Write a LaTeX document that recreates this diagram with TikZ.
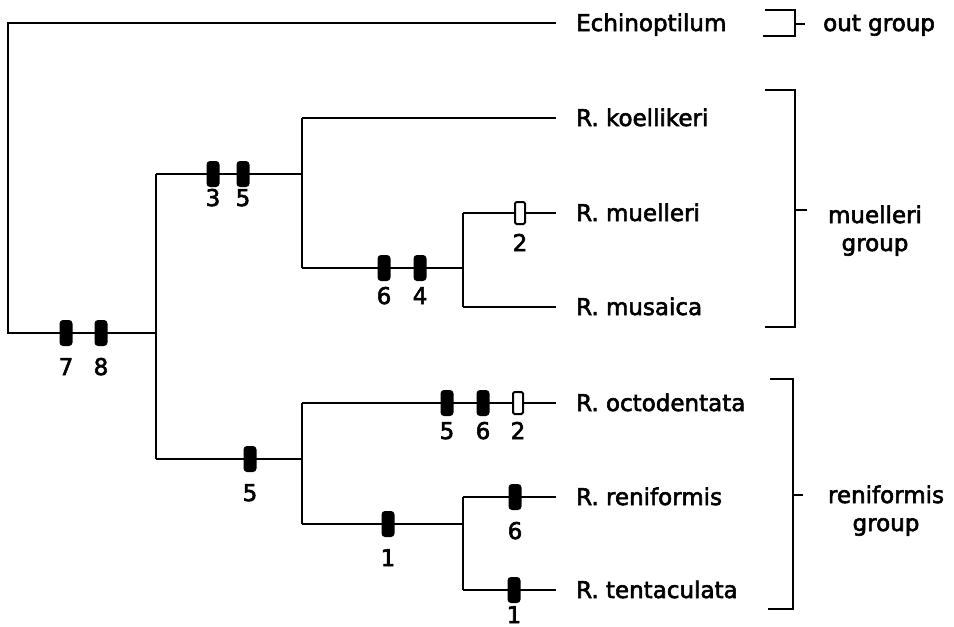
\documentclass[tikz,border=0pt]{standalone}
\usepackage{fontspec}
\setmainfont[FakeBold=2.5]{DejaVu Sans}
\begin{document}
\begin{tikzpicture}[x=1pt,y=-1pt,
  tree/.style={line width=2.8pt},
  brk/.style={line width=2.8pt},
  bar/.style={fill=black, rounded corners=3.5pt, minimum width=13pt, minimum height=26pt, inner sep=0pt},
  openbar/.style={draw=black, fill=white, line width=2pt, rounded corners=1.5pt, minimum width=10pt, minimum height=22pt, inner sep=0pt},
  lbl/.style={font=\fontsize{23}{27}\selectfont, inner sep=0pt},
  num/.style={lbl, anchor=base},
  taxon/.style={lbl, anchor=base west},
  grp/.style={lbl, anchor=base}]
\useasboundingbox (0,0) rectangle (954,627);

% junction coordinates
\coordinate (rtop) at (8,23);
\coordinate (r0) at (8,333);
\coordinate (n1) at (156,333);
\coordinate (n1a) at (156,174);
\coordinate (n1b) at (156,459);
\coordinate (n2) at (302,174);
\coordinate (n2a) at (302,118);
\coordinate (n2b) at (302,268);
\coordinate (n3) at (463,268);
\coordinate (n3a) at (463,213);
\coordinate (n3b) at (463,307);
\coordinate (n4) at (302,459);
\coordinate (n4a) at (302,403);
\coordinate (n4b) at (302,524);
\coordinate (n5) at (463,524);
\coordinate (n5a) at (463,497);
\coordinate (n5b) at (463,590);
% terminal ends
\coordinate (t0) at (556,23);
\coordinate (t1) at (556,118);
\coordinate (t2) at (556,213);
\coordinate (t3) at (556,307);
\coordinate (t4) at (556,403);
\coordinate (t5) at (556,497);
\coordinate (t6) at (556,590);

% taxa
\node[taxon] (echi) at (576,31) {Echinoptilum};
\node[taxon] (koel) at (576,126) {R. koellikeri};
\node[taxon] (muel) at (576,221) {R. muelleri};
\node[taxon] (musa) at (576,315) {R. musaica};
\node[taxon] (octo) at (576,411) {R. octodentata};
\node[taxon] (reni) at (576,505) {R. reniformis};
\node[taxon] (tent) at (576,598) {R. tentaculata};

% tree
\draw[tree] (t0) -- (rtop) -- (r0) -- (n1);
\draw[tree] (n1a) -- (n1b);
\draw[tree] (n1a) -- (n2);
\draw[tree] (n2a) -- (n2b);
\draw[tree] (n2a) -- (t1);
\draw[tree] (n2b) -- (n3);
\draw[tree] (n3a) -- (n3b);
\draw[tree] (n3a) -- (t2);
\draw[tree] (n3b) -- (t3);
\draw[tree] (n1b) -- (n4);
\draw[tree] (n4a) -- (n4b);
\draw[tree] (n4a) -- (t4);
\draw[tree] (n4b) -- (n5);
\draw[tree] (n5a) -- (n5b);
\draw[tree] (n5a) -- (t5);
\draw[tree] (n5b) -- (t6);

% character marks
\node[bar] (m7) at (66,333) {};
\node[bar] (m8) at (101,333) {};
\node[bar] (m3) at (213,174) {};
\node[bar] (m5a) at (243,174) {};
\node[bar] (m6a) at (384,268) {};
\node[bar] (m4) at (420,268) {};
\node[openbar] (o2a) at (520,213) {};
\node[bar] (m5b) at (250,459) {};
\node[bar] (m5c) at (447,403) {};
\node[bar] (m6b) at (483,403) {};
\node[openbar] (o2b) at (518,403) {};
\node[bar] (m1a) at (388,524) {};
\node[bar] (m6c) at (515,497) {};
\node[bar] (m1b) at (514,590) {};

% character numbers
\node[num] (l7) at (66,375) {7};
\node[num] (l8) at (101,375) {8};
\node[num] (l3) at (213,206) {3};
\node[num] (l5a) at (243,206) {5};
\node[num] (l6a) at (384,304) {6};
\node[num] (l4) at (420,304) {4};
\node[num] (l2a) at (520,251) {2};
\node[num] (l5b) at (250,501) {5};
\node[num] (l5c) at (447,439) {5};
\node[num] (l6b) at (483,439) {6};
\node[num] (l2b) at (518,439) {2};
\node[num] (l1a) at (388,566) {1};
\node[num] (l6c) at (515,539) {6};
\node[num] (l1b) at (514,623) {1};

% group brackets
\coordinate (ba1) at (763,36);
\coordinate (ba2) at (795,36);
\coordinate (ba3) at (795,10);
\coordinate (ba4) at (765,10);
\coordinate (bat) at (795,24);
\coordinate (bat2) at (805,24);
\draw[brk] (ba1) -- (ba2) -- (ba3) -- (ba4);
\draw[brk] (bat) -- (bat2);
\node[taxon] (outg) at (823,31) {out group};

\coordinate (bb1) at (765,90);
\coordinate (bb2) at (795,90);
\coordinate (bb3) at (795,327);
\coordinate (bb4) at (765,327);
\coordinate (bbt) at (795,210);
\coordinate (bbt2) at (807,210);
\draw[brk] (bb1) -- (bb2) -- (bb3) -- (bb4);
\draw[brk] (bbt) -- (bbt2);
\node[grp] (mg1) at (875,223) {muelleri};
\node[grp] (mg2) at (875,251) {group};

\coordinate (bc1) at (770,379);
\coordinate (bc2) at (793,379);
\coordinate (bc3) at (793,609);
\coordinate (bc4) at (768,609);
\coordinate (bct) at (793,495);
\coordinate (bct2) at (803,495);
\draw[brk] (bc1) -- (bc2) -- (bc3) -- (bc4);
\draw[brk] (bct) -- (bct2);
\node[grp] (rg1) at (886,503) {reniformis};
\node[grp] (rg2) at (886,531) {group};
\end{tikzpicture}
\end{document}
